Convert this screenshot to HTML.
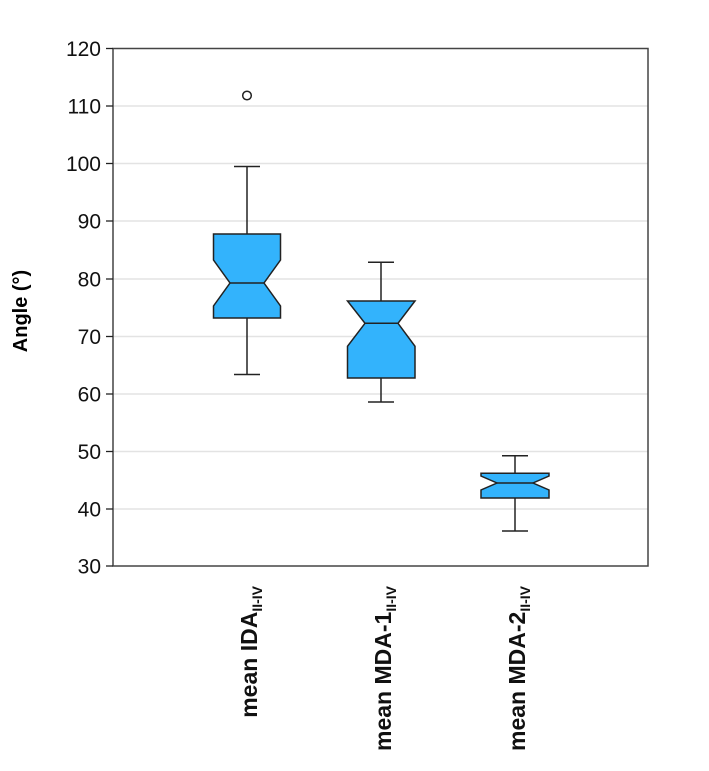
<!DOCTYPE html>
<html><head><style>body{margin:0;background:#fff}</style></head><body>
<svg width="709" height="766" xmlns="http://www.w3.org/2000/svg" font-family="Liberation Sans, Arial, sans-serif">
<rect width="709" height="766" fill="#fff"/>
<g stroke="#e3e3e3" stroke-width="1.5">
<line x1="113" x2="648" y1="106" y2="106"/>
<line x1="113" x2="648" y1="163.5" y2="163.5"/>
<line x1="113" x2="648" y1="221" y2="221"/>
<line x1="113" x2="648" y1="279" y2="279"/>
<line x1="113" x2="648" y1="336.5" y2="336.5"/>
<line x1="113" x2="648" y1="394" y2="394"/>
<line x1="113" x2="648" y1="451.5" y2="451.5"/>
<line x1="113" x2="648" y1="509" y2="509"/>
</g>
<rect x="113" y="48.5" width="535" height="517.5" fill="none" stroke="#444" stroke-width="1.5"/>
<g stroke="#222" stroke-width="1.3">
<line x1="106" x2="113" y1="48.5" y2="48.5"/><line x1="106" x2="113" y1="106" y2="106"/>
<line x1="106" x2="113" y1="163.5" y2="163.5"/><line x1="106" x2="113" y1="221" y2="221"/>
<line x1="106" x2="113" y1="279" y2="279"/><line x1="106" x2="113" y1="336.5" y2="336.5"/>
<line x1="106" x2="113" y1="394" y2="394"/><line x1="106" x2="113" y1="451.5" y2="451.5"/>
<line x1="106" x2="113" y1="509" y2="509"/><line x1="106" x2="113" y1="566" y2="566"/>
</g>
<g font-size="21" text-anchor="end" fill="#111">
<text x="101" y="56">120</text><text x="101" y="113.5">110</text><text x="101" y="171">100</text>
<text x="101" y="228.5">90</text><text x="101" y="286.5">80</text><text x="101" y="344">70</text>
<text x="101" y="401.5">60</text><text x="101" y="459">50</text><text x="101" y="516.5">40</text>
<text x="101" y="573.5">30</text>
</g>
<text transform="rotate(-90 27 311)" x="27" y="311" font-size="20" font-weight="bold" text-anchor="middle">Angle (°)</text>
<g stroke="#222" stroke-width="1.5" fill="none">
<line x1="247" x2="247" y1="166.5" y2="234"/><line x1="247" x2="247" y1="318" y2="374.5"/>
<line x1="234" x2="260" y1="166.5" y2="166.5"/><line x1="234" x2="260" y1="374.5" y2="374.5"/>
<line x1="381" x2="381" y1="262.3" y2="301"/><line x1="381" x2="381" y1="378" y2="402"/>
<line x1="368" x2="394" y1="262.3" y2="262.3"/><line x1="368" x2="394" y1="402" y2="402"/>
<line x1="515" x2="515" y1="455.7" y2="473.3"/><line x1="515" x2="515" y1="498" y2="531"/>
<line x1="502" x2="528" y1="455.7" y2="455.7"/><line x1="502" x2="528" y1="531" y2="531"/>
<circle cx="247" cy="95.5" r="4.3"/>
</g>
<g fill="#33b3fc" stroke="#222" stroke-width="1.5">
<polygon points="213.5,234 280.5,234 280.5,260 264,283 280.5,306 280.5,318 213.5,318 213.5,306 230,283 213.5,260"/>
<line x1="230" x2="264" y1="283" y2="283"/>
<polygon points="347.5,301 415,301 398,323.3 415,346.3 415,378 347.5,378 347.5,346.3 365,323.3"/>
<line x1="365" x2="398" y1="323.3" y2="323.3"/>
<polygon points="481,473.3 549,473.3 549,476 533,483 549,490 549,498 481,498 481,490 497,483 481,476"/>
<line x1="497" x2="533" y1="483" y2="483"/>
</g>
<g font-size="23" font-weight="bold" fill="#111" text-anchor="end">
<text transform="rotate(-90 257 586)" x="257" y="586">mean IDA<tspan font-size="14" dy="5">II-IV</tspan></text>
<text transform="rotate(-90 391 586)" x="391" y="586">mean MDA-1<tspan font-size="14" dy="5">II-IV</tspan></text>
<text transform="rotate(-90 525 586)" x="525" y="586">mean MDA-2<tspan font-size="14" dy="5">II-IV</tspan></text>
</g>
</svg>
</body></html>
